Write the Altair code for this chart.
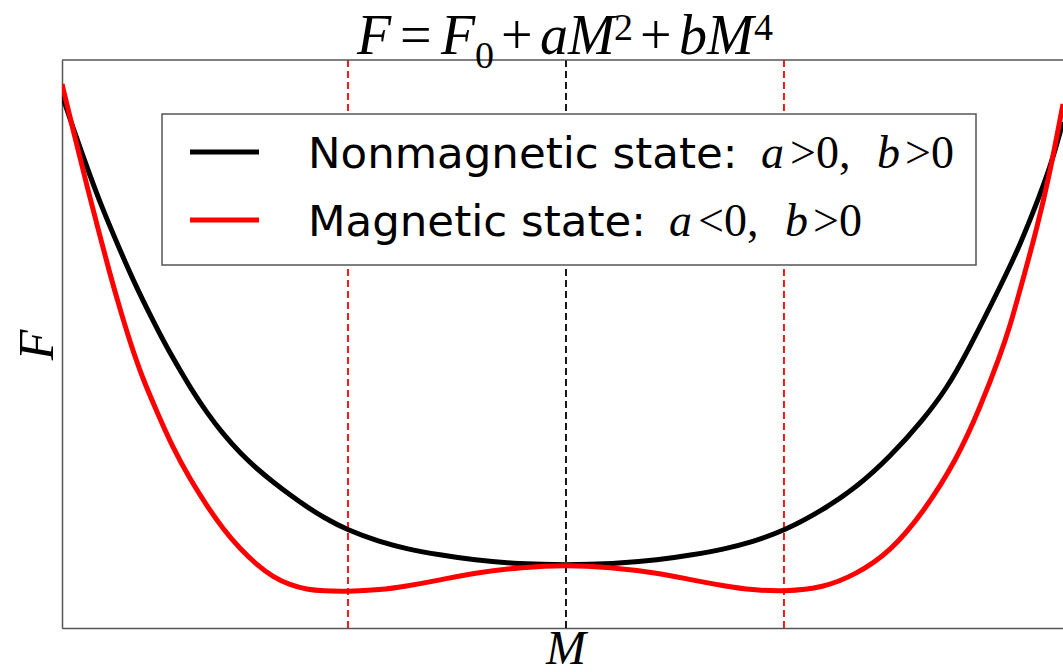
import altair as alt
import pandas as pd

# Landau free energy F(M) for the two states
m_nonmag = [-2.312, -2.266, -2.193, -2.128, -2.046, -1.986, -1.908, -1.830, -1.757, -1.725,
            -1.647, -1.573, -1.495, -1.417, -1.344, -1.266, -1.188, -1.115, -1.005, -0.853,
            -0.729, -0.578, -0.427, -0.211, 0.0, 0.211, 0.427, 0.578, 0.729, 0.853,
            1.0, 1.179, 1.335, 1.486, 1.638, 1.748, 1.839, 2.005, 2.083, 2.174, 2.229, 2.280]
f_nonmag = [4.70, 4.40, 3.95, 3.57, 3.15, 2.85, 2.50, 2.17, 1.90, 1.78,
            1.52, 1.31, 1.12, 0.96, 0.83, 0.70, 0.58, 0.48, 0.35, 0.23,
            0.16, 0.10, 0.05, 0.01, 0.0, 0.01, 0.05, 0.10, 0.16, 0.23,
            0.34, 0.55, 0.78, 1.08, 1.45, 1.77, 2.12, 2.84, 3.20, 3.70, 4.03, 4.43]

m_mag = [-2.312, -2.252, -2.193, -2.138, -2.092, -2.046, -2.000, -1.945, -1.876, -1.803,
         -1.725, -1.647, -1.573, -1.495, -1.417, -1.344, -1.266, -1.188, -1.115, -1.005,
         -0.853, -0.729, -0.578, -0.427, -0.197, 0.0, 0.197, 0.427, 0.578, 0.729,
         0.853, 1.0, 1.179, 1.335, 1.486, 1.638, 1.794, 1.899, 1.991, 2.037,
         2.083, 2.161, 2.220, 2.280]
f_mag = [4.81, 4.27, 3.75, 3.29, 2.91, 2.56, 2.23, 1.88, 1.53, 1.17,
         0.86, 0.59, 0.36, 0.16, 0.00, -0.12, -0.20, -0.245, -0.26, -0.265,
         -0.25, -0.21, -0.15, -0.08, -0.02, 0.0, -0.02, -0.08, -0.15, -0.21,
         -0.25, -0.265, -0.23, -0.09, 0.13, 0.52, 1.06, 1.57, 2.09, 2.39,
         2.75, 3.37, 3.92, 4.61]

# dashed guides at the magnetic minima (+/- M0) and at M = 0
m_guides = [-1.0, 0.0, 1.0]
guide_colors = ["red", "black", "red"]

W, H = 1001, 568
FRAME = "#555555"
MATH = "Liberation Serif"
SANS = "DejaVu Sans"

x_enc = alt.X("M:Q", scale=alt.Scale(domain=[-2.312, 2.280], nice=False, zero=False),
              axis=alt.Axis(labels=False, ticks=False, grid=False, title=None,
                            domainColor=FRAME, domainWidth=1.5))
y_enc = alt.Y("F:Q", scale=alt.Scale(domain=[-0.63, 5.05], nice=False, zero=False),
              axis=alt.Axis(labels=False, ticks=False, grid=False, title=None,
                            domainColor=FRAME, domainWidth=1.5))

nonmag = pd.DataFrame({"M": m_nonmag, "F": f_nonmag})
mag = pd.DataFrame({"M": m_mag, "F": f_mag})
guides = pd.DataFrame({"M": m_guides, "c": guide_colors})
one = pd.DataFrame({"k": [0]})

guide_layer = alt.Chart(guides).mark_rule(strokeDash=[7, 4], strokeWidth=1.8).encode(
    x=x_enc, color=alt.Color("c:N", scale=None), y=alt.value(0), y2=alt.value(H))

line_nonmag = alt.Chart(nonmag).mark_line(color="black", strokeWidth=5,
                                           interpolate="basis", clip=True).encode(x=x_enc, y=y_enc)
line_mag = alt.Chart(mag).mark_line(color="red", strokeWidth=5,
                                     interpolate="basis", clip=True).encode(x=x_enc, y=y_enc)

top_edge = alt.Chart(one).mark_rule(color=FRAME, strokeWidth=1.5).encode(
    x=alt.value(0), x2=alt.value(W), y=alt.value(0))


def txt(s, x, y, size, font, style="normal", align="left", angle=0, color="black"):
    return alt.Chart(one).mark_text(
        text=s, font=font, fontSize=size, fontStyle=style, align=align,
        baseline="alphabetic", angle=angle, color=color).encode(
        x=alt.value(x), y=alt.value(y))


# legend box with its two entries
legend_box = alt.Chart(one).mark_rect(fill="white", stroke=FRAME, strokeWidth=1.5).encode(
    x=alt.value(100), x2=alt.value(914), y=alt.value(54), y2=alt.value(205))
legend_black = alt.Chart(one).mark_rule(color="black", strokeWidth=5).encode(
    x=alt.value(128), x2=alt.value(197), y=alt.value(92))
legend_red = alt.Chart(one).mark_rule(color="red", strokeWidth=5).encode(
    x=alt.value(128), x2=alt.value(197), y=alt.value(160))

legend_text = [
    txt("Nonmagnetic state:", 246, 108, 43.5, SANS),
    txt("a", 699, 108, 46, MATH, "italic"),
    txt(">0,", 728, 108, 46, MATH),
    txt("b", 815, 108, 46, MATH, "italic"),
    txt(">0", 843, 108, 46, MATH),
    txt("Magnetic state:", 246, 176, 43.5, SANS),
    txt("a", 607, 176, 46, MATH, "italic"),
    txt("<0,", 636, 176, 46, MATH),
    txt("b", 723, 176, 46, MATH, "italic"),
    txt(">0", 751, 176, 46, MATH),
]

# title  F = F0 + aM^2 + bM^4
title_parts = [
    txt("F", 295, -6, 56, MATH, "italic"),
    txt("=", 338, -6, 56, MATH),
    txt("F", 379, -6, 56, MATH, "italic"),
    txt("0", 413, 8, 38, MATH),
    txt("+", 439, -6, 56, MATH),
    txt("aM", 478, -6, 56, MATH, "italic"),
    txt("2", 552, -20, 38, MATH),
    txt("+", 578, -6, 56, MATH),
    txt("bM", 617, -6, 56, MATH, "italic"),
    txt("4", 692, -20, 38, MATH),
]

axis_titles = [
    txt("M", 504, 604, 48, MATH, "italic", align="center"),
    txt("F", -9, 285, 50, MATH, "italic", align="center", angle=270),
]

chart = alt.layer(
    guide_layer, line_nonmag, line_mag, top_edge,
    legend_box, legend_black, legend_red,
    *legend_text, *title_parts, *axis_titles,
).properties(
    width=W, height=H,
    autosize=alt.AutoSizeParams(type="none"),
    padding={"left": 62, "top": 60, "right": 0, "bottom": 44},
    background="white",
).configure_view(strokeWidth=0)

chart.save("out.html", embed_options={"renderer": "svg", "actions": False})
